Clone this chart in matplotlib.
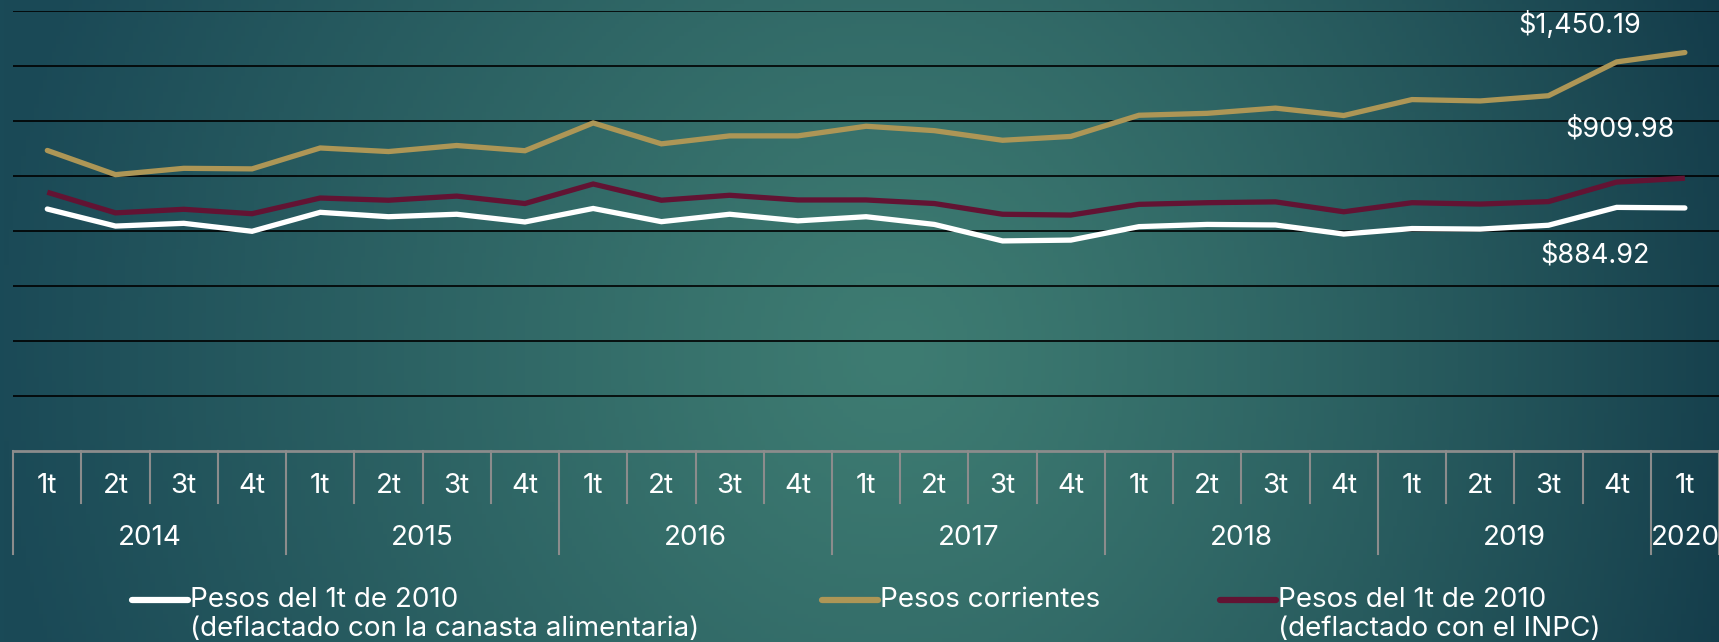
import numpy as np
import matplotlib

matplotlib.use("Agg")
import matplotlib.pyplot as plt
import matplotlib.transforms as mtransforms
from matplotlib.colors import to_rgb
from matplotlib.lines import Line2D

# Datos (pesos), 1t 2014 .. 1t 2020
QUARTERS = ["1t", "2t", "3t", "4t"] * 6 + ["1t"]
YEARS = ["2014", "2015", "2016", "2017", "2018", "2019", "2020"]
YEAR_SPANS = [4, 4, 4, 4, 4, 4, 1]

PESOS_CORRIENTES = [1094, 1006, 1029, 1027, 1103, 1090, 1112, 1093, 1194,
                    1118, 1147, 1147, 1182, 1166, 1131, 1145, 1222, 1229,
                    1248, 1221, 1279, 1274, 1293, 1416, 1450.19]
PESOS_INPC = [942, 867, 880, 864, 921, 913, 928, 901, 972, 913, 931, 914,
              914, 901, 862, 859, 898, 904, 907, 871, 904, 899, 908, 979, 993]
PESOS_CANASTA = [881, 819, 829, 800, 869, 853, 862, 834, 883, 835, 862, 838,
                 853, 825, 765, 768, 817, 825, 823, 790, 810, 808, 822, 887,
                 884.92]

LABEL_CORRIENTES = "$1,450.19"
LABEL_INPC = "$909.98"
LABEL_CANASTA = "$884.92"

GOLD = "#ad9656"
MAROON = "#621333"
WHITE = "#ffffff"
AXIS_GREY = "#8c8c8c"

plt.rcParams["font.family"] = ["Inter", "DejaVu Sans"]
FS = 20

W, H = 1719, 642
fig = plt.figure(figsize=(W / 100, H / 100), dpi=100)

# --- fondo degradado ---
bg = fig.add_axes([0, 0, 1, 1], zorder=-10)
xx, yy = np.meshgrid(np.linspace(0, 1, 400), np.linspace(0, 1, 160))
center = np.array(to_rgb("#3e7c72"))
left_edge = np.array(to_rgb("#1b4a57"))
right_edge = np.array(to_rgb("#133b4a"))
d = np.sqrt(((xx - 0.52) / 0.52) ** 2 + ((yy - 0.55) / 1.5) ** 2)
d = np.clip(d, 0, 1)[..., None] ** 1.2
edge = left_edge + (right_edge - left_edge) * xx[..., None]
img = center + (edge - center) * d
bg.imshow(img, extent=[0, 1, 0, 1], aspect="auto", origin="upper")
bg.axis("off")

# --- área del gráfico ---
left = 13.2 / W
bottom = (H - 451.3) / H
ax = fig.add_axes([left, bottom, 1 - left, 440 / H])
ax.patch.set_alpha(0)

x = np.arange(len(QUARTERS))
lw = 3.8
ax.plot(x, PESOS_CORRIENTES, color=GOLD, lw=lw, solid_capstyle="round",
        solid_joinstyle="miter", zorder=3)
ax.plot(x, PESOS_INPC, color=MAROON, lw=lw, solid_capstyle="butt",
        solid_joinstyle="miter", zorder=3)
ax.plot(x, PESOS_CANASTA, color=WHITE, lw=lw, solid_capstyle="round",
        solid_joinstyle="miter", zorder=4)

ax.set_xlim(-0.5, len(QUARTERS) - 0.5)
ax.set_ylim(0, 1600)
ax.set_yticks(range(200, 1601, 200))
ax.yaxis.grid(True, color="black", lw=1.2)
ax.set_axisbelow(True)
ax.tick_params(left=False, bottom=False, labelleft=False, labelbottom=False)
for s in ("top", "right", "left"):
    ax.spines[s].set_visible(False)
ax.spines["bottom"].set_color(AXIS_GREY)
ax.spines["bottom"].set_linewidth(2)

# etiquetas de los últimos valores
ax.annotate(LABEL_CORRIENTES, (x[-1], PESOS_CORRIENTES[-1]),
            textcoords="offset points", xytext=(-76, 20), ha="center",
            va="center", color="white", fontsize=19.5)
ax.annotate(LABEL_INPC, (x[-1], PESOS_INPC[-1]),
            textcoords="offset points", xytext=(-47, 35), ha="center",
            va="center", color="white", fontsize=19.5)
ax.annotate(LABEL_CANASTA, (x[-1], PESOS_CANASTA[-1]),
            textcoords="offset points", xytext=(-65, -34), ha="center",
            va="center", color="white", fontsize=19.5)

# --- eje categórico de dos niveles ---
trans = mtransforms.blended_transform_factory(ax.transData, ax.transAxes)
q_len = -(503 - 451.3) / 440
y_len = -(553.6 - 451.3) / 440
q_lab = -(486 - 451.3) / 440
y_lab = -(538 - 451.3) / 440

bounds = np.concatenate([[0], np.cumsum(YEAR_SPANS)])
for k in range(len(QUARTERS) + 1):
    yend = y_len if k in bounds else q_len
    ax.plot([k - 0.5, k - 0.5], [0, yend], transform=trans, color=AXIS_GREY,
            lw=1.5, clip_on=False)
for i, q in enumerate(QUARTERS):
    ax.text(i, q_lab, q, transform=trans, ha="center", va="center",
            color="white", fontsize=FS)
for yr, a, b in zip(YEARS, bounds[:-1], bounds[1:]):
    ax.text((a + b - 1) / 2, y_lab, yr, transform=trans, ha="center",
            va="center", color="white", fontsize=FS)

# --- leyenda ---
legend = [
    (WHITE, 131.5, ["Pesos del 1t de 2010",
                    "(deflactado con la canasta alimentaria)"]),
    (GOLD, 822, ["Pesos corrientes"]),
    (MAROON, 1220, ["Pesos del 1t de 2010", "(deflactado con el INPC)"]),
]
row1 = 1 - 599.6 / H
row2 = 1 - 629.5 / H
for color, x0, lines in legend:
    fig.add_artist(Line2D([x0 / W, (x0 + 56) / W], [row1, row1],
                          color=color, lw=4.5, solid_capstyle="round"))
    for txt, yrow in zip(lines, (row1, row2)):
        fig.text((x0 + 58) / W, yrow, txt, ha="left", va="center",
                 color="white", fontsize=FS)

fig.savefig("out.png", dpi=100)
